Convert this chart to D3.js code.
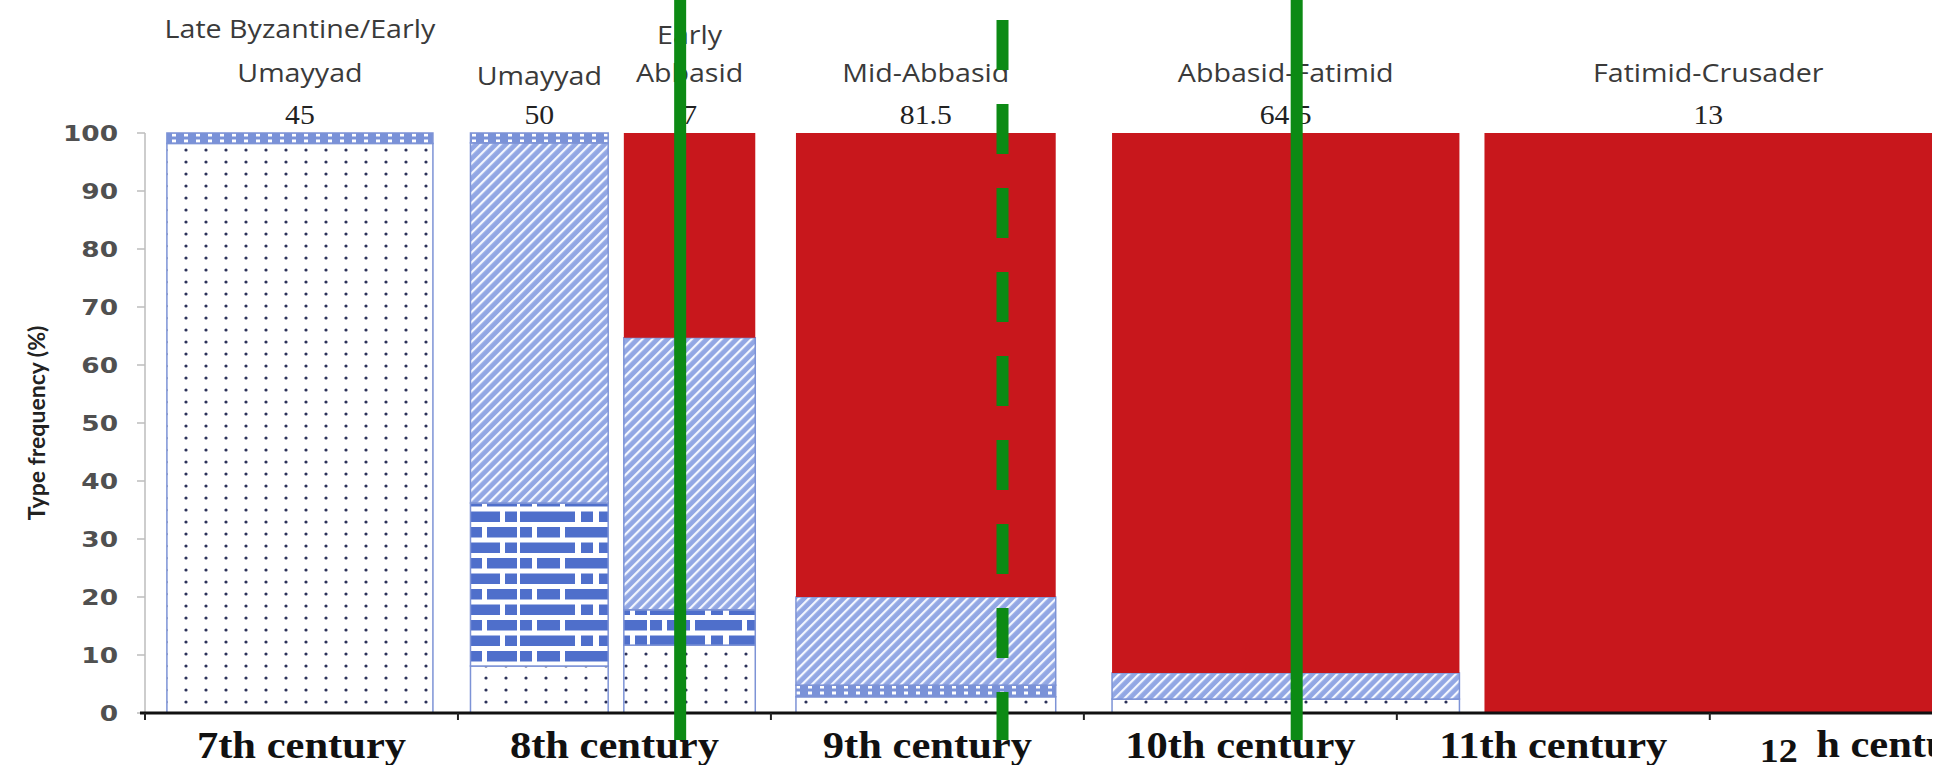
<!DOCTYPE html>
<html><head><meta charset="utf-8">
<script src="https://cdn.jsdelivr.net/npm/d3@7"></script>
<style>html,body{margin:0;padding:0;background:#fff;overflow:hidden}svg{display:block}</style>
</head><body>
<svg id="chart" width="1952" height="765"></svg>
<script>
// ---- data ----
const periods = [["Late Byzantine/Early", "Umayyad"], ["Umayyad"], ["Early", "Abbasid"], ["Mid-Abbasid"], ["Abbasid-Fatimid"], ["Fatimid-Crusader"]];
const sampleCounts = ["45", "50", "7", "81.5", "64.5", "13"];
const periodStart = [607, 704, 753, 808, 909, 1028];   // years (AD) of bar edges as drawn
const periodEnd   = [692, 748, 795, 891, 1020, 1171];
const dotted     = [98.2, 8.1, 11.7, 2.8, 2.4, 0];
const brick      = [0, 28.1, 6.1, 0, 0, 0];
const checkerLow = [0, 0, 0, 2.0, 0, 0];
const hatch      = [0, 62.1, 46.9, 15.2, 4.5, 0];
const checkerTop = [1.8, 1.7, 0, 0, 0, 0];
const red        = [0, 0, 35.3, 80.0, 93.1, 100];
const yTicks = [0, 10, 20, 30, 40, 50, 60, 70, 80, 90, 100];
const centuryTicks = [600, 700, 800, 900, 1000, 1100];
const centuryLabels = ["7th century", "8th century", "9th century", "10th century", "11th century", "12th century"];
const eventYears = [771, 874, 968];
const eventDashed = [false, true, false];

// ---- build ----
const svg = d3.select("#chart");
const x = d3.scaleLinear().domain([600, 1171]).range([145, 1932]);
const y = d3.scaleLinear().domain([0, 100]).range([713, 133]);

const keys = ["dotted", "brick", "checkerLow", "hatch", "checkerTop", "red"];
const rows = periods.map((p, i) => ({
  i, start: periodStart[i], end: periodEnd[i],
  dotted: dotted[i], brick: brick[i], checkerLow: checkerLow[i], hatch: hatch[i], checkerTop: checkerTop[i], red: red[i]
}));
const stacked = d3.stack().keys(keys)(rows);

const defs = svg.append("defs");
defs.append("clipPath").attr("id", "frame").append("rect").attr("width", x(1171)).attr("height", 765);
// dotted
const pd = defs.append("pattern").attr("id", "p-dotted").attr("patternUnits", "userSpaceOnUse").attr("width", 20).attr("height", 12);
pd.append("rect").attr("width", 20).attr("height", 12).attr("fill", "#fff");
pd.append("circle").attr("cx", 6).attr("cy", 6).attr("r", 1.6).attr("fill", "#2b3158");
// brick
const pb = defs.append("pattern").attr("id", "p-brick").attr("patternUnits", "userSpaceOnUse").attr("width", 130).attr("height", 31);
pb.append("rect").attr("width", 130).attr("height", 31).attr("fill", "#fff");
[[0, 0, 12], [17, 0, 23], [45, 0, 47], [97, 0, 30], [0, 15.5, 55], [61, 15.5, 12], [79, 15.5, 31], [115, 15.5, 12]].forEach(b =>
  pb.append("rect").attr("x", b[0]).attr("y", b[1]).attr("width", b[2]).attr("height", 10.5).attr("fill", "#4f6fcb"));
// hatch
const ph = defs.append("pattern").attr("id", "p-hatch").attr("patternUnits", "userSpaceOnUse").attr("width", 7).attr("height", 7).attr("patternTransform", "rotate(45)");
ph.append("rect").attr("width", 7).attr("height", 7).attr("fill", "#92a7e4");
ph.append("rect").attr("width", 2.2).attr("height", 7).attr("fill", "#f4f7ff");
// checker
const pc = defs.append("pattern").attr("id", "p-checker").attr("patternUnits", "userSpaceOnUse").attr("width", 12).attr("height", 6);
pc.append("rect").attr("width", 12).attr("height", 6).attr("fill", "#7a92d8");
pc.append("rect").attr("x", 4).attr("y", 1.5).attr("width", 4).attr("height", 3).attr("fill", "#fff");

const fills = {dotted: "url(#p-dotted)", brick: "url(#p-brick)", checkerLow: "url(#p-checker)", hatch: "url(#p-hatch)", checkerTop: "url(#p-checker)", red: "#c8171c"};

const gBars = svg.append("g");
stacked.forEach(layer => {
  gBars.selectAll(null).data(layer.filter(d => d[1] - d[0] > 0)).join("rect")
    .attr("x", d => x(d.data.start))
    .attr("width", d => x(d.data.end) - x(d.data.start))
    .attr("y", d => y(d[1]))
    .attr("height", d => y(d[0]) - y(d[1]))
    .attr("fill", fills[layer.key])
    .attr("stroke", layer.key === "red" ? "none" : "#7d93d6")
    .attr("stroke-width", layer.key === "red" ? 0 : 1.5);
});

// y axis
const gy = svg.append("g");
gy.append("line").attr("x1", 145).attr("x2", 145).attr("y1", y(100)).attr("y2", y(0)).attr("stroke", "#bdbdbd").attr("stroke-width", 1.5);
gy.selectAll("line.t").data(yTicks).join("line").attr("class", "t")
  .attr("x1", 137).attr("x2", 145).attr("y1", d => y(d)).attr("y2", d => y(d))
  .attr("stroke", "#bdbdbd").attr("stroke-width", 1.5);
gy.selectAll("text").data(yTicks).join("text")
  .attr("transform", d => `translate(118,${y(d)}) scale(1.2,1)`)
  .attr("text-anchor", "end").attr("dy", "0.36em")
  .attr("font-family", "DejaVu Sans").attr("font-weight", "bold").attr("font-size", 22)
  .attr("fill", "#505050").text(d => d);
svg.append("text").attr("transform", `translate(45,${y(50)}) rotate(-90)`)
  .attr("text-anchor", "middle").attr("font-family", "Lato").attr("font-weight", "bold")
  .attr("font-size", 23).attr("fill", "#222").text("Type frequency (%)");

// x axis
svg.append("line").attr("x1", 140).attr("x2", x(1171)).attr("y1", y(0)).attr("y2", y(0)).attr("stroke", "#111").attr("stroke-width", 3);
svg.selectAll("line.xt").data(centuryTicks).join("line").attr("class", "xt")
  .attr("x1", d => x(d)).attr("x2", d => x(d)).attr("y1", y(0)).attr("y2", y(0) + 7)
  .attr("stroke", "#222").attr("stroke-width", 2);
const gc = svg.append("g").attr("font-family", "Liberation Serif").attr("font-weight", "bold").attr("fill", "#111").attr("clip-path", "url(#frame)");
centuryLabels.forEach((lab, i) => {
  const cx = x(centuryTicks[0] + 100 * i + 50);
  if (i < 5) {
    gc.append("text").attr("transform", `translate(${cx},758) scale(1.15,1)`).attr("text-anchor", "middle").attr("font-size", 37).text(lab);
  } else {
    const t = gc.append("text").attr("transform", `translate(${x(1100) + 50},762) scale(1.15,1)`).attr("font-size", 33);
    t.append("tspan").text(lab.slice(0, 2));
    t.append("tspan").attr("dx", 16).attr("dy", -5).attr("font-size", 37).text(lab.slice(3));
  }
});

// period labels
const gl = svg.append("g");
periods.forEach((lines, i) => {
  const cx = (x(periodStart[i]) + x(periodEnd[i])) / 2;
  const lh = lines[0].length > 10 ? 44 : 38;
  lines.forEach((ln, j) => {
    const base = (lines.length === 1 && i === 1 ? 85 : 82) - (lines.length - 1 - j) * lh;
    gl.append("text").attr("transform", `translate(${cx},${base}) scale(1.1,1)`).attr("text-anchor", "middle")
      .attr("font-family", "Open Sans").attr("font-size", 26).attr("fill", "#3a3a3a").text(ln);
  });
  gl.append("text").attr("transform", `translate(${cx},124) scale(1.1,1)`).attr("text-anchor", "middle")
    .attr("font-family", "Liberation Serif").attr("font-size", 27).attr("fill", "#222").text(sampleCounts[i]);
});

// event lines
svg.selectAll("line.ev").data(eventYears).join("line").attr("class", "ev")
  .attr("x1", d => x(d)).attr("x2", d => x(d))
  .attr("y1", (d, i) => eventDashed[i] ? 20 : 0).attr("y2", 740)
  .attr("stroke", "#0c8a14").attr("stroke-width", 12)
  .attr("stroke-dasharray", (d, i) => eventDashed[i] ? "50,34" : null);
</script>
</body></html>
